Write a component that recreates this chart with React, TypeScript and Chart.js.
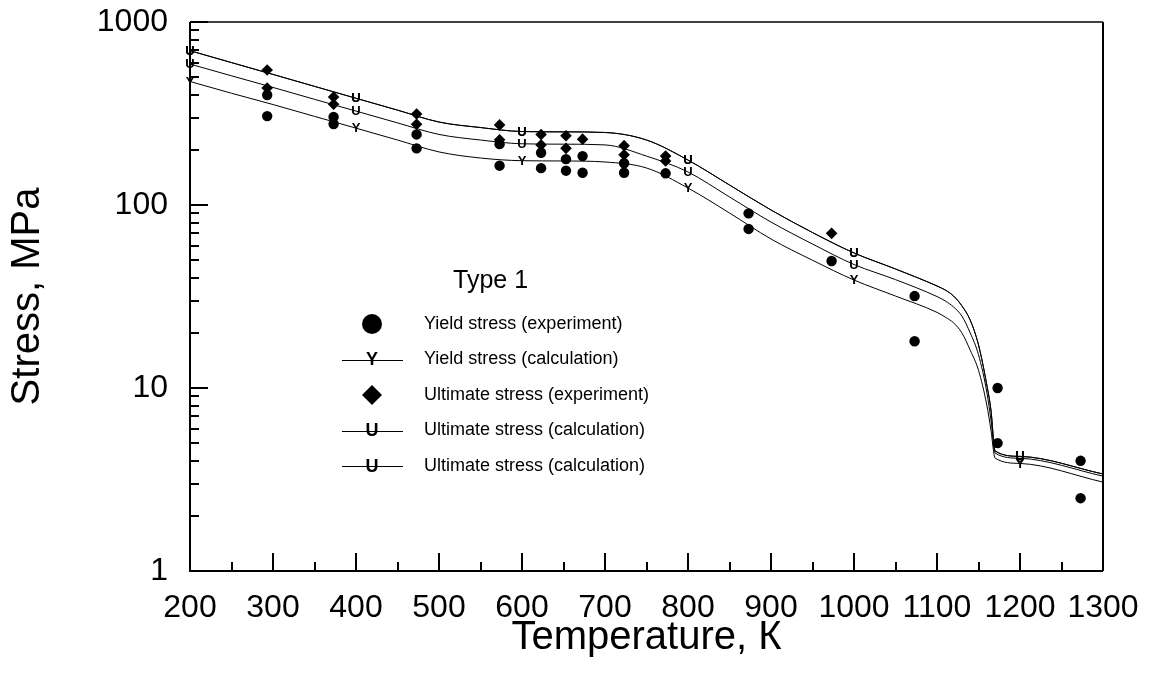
import React, { useEffect, useRef } from 'react';
import { Chart, registerables } from 'chart.js';

Chart.register(...registerables);

const FONT = 'Arial, "Liberation Sans", Helvetica, sans-serif';

// ---- calculated curves (temperature K, stress MPa) ----
const calcTemps = [200, 250, 300, 350, 400, 450, 500, 550, 600, 650, 700, 750, 800, 850, 900, 950, 1000, 1050, 1100, 1110, 1120, 1130, 1140, 1150, 1160, 1165, 1170, 1200, 1300];
const ultimateCalcUpper = [697, 600, 517, 445, 383, 330, 284, 265, 252, 251, 249, 226.5, 176, 128.6, 93.9, 70.7, 54.7, 44.7, 36.1, 34.3, 31.8, 28.1, 23.5, 17.2, 10.4, 7.58, 4.53, 4.23, 3.39];
const ultimateCalcLower = [589, 508, 439, 378, 326, 281, 243, 226.5, 216, 215, 213, 185, 151.5, 110.6, 80.7, 61.2, 47.3, 39.1, 31.6, 29.9, 27.7, 24.7, 20.0, 15.2, 9.51, 6.69, 4.41, 4.13, 3.30];
const yieldCalc = [473, 408, 354, 305, 263, 226.5, 195, 180.6, 174.6, 174, 171.8, 159.3, 123.8, 90.4, 65.2, 49.9, 38.9, 31.8, 25.9, 24.4, 22.7, 20.0, 16.1, 12.5, 8.07, 5.89, 4.14, 3.87, 3.06];
const markerTemps = [200, 400, 600, 800, 1000, 1200];

// ---- experiments ----
const yieldExpT = [293, 293, 373, 373, 473, 473, 573, 573, 623, 623, 653, 653, 673, 673, 723, 723, 773, 873, 873, 973, 1073, 1073, 1173, 1173, 1273, 1273];
const yieldExpV = [399, 306, 303, 277, 243, 204, 215, 164, 193, 159, 178, 154, 185, 150, 169, 150, 149, 90, 74, 49.4, 31.8, 18, 10, 5, 4.0, 2.5];
const ultimateExpT = [293, 293, 373, 373, 473, 473, 573, 573, 623, 623, 653, 653, 673, 723, 723, 773, 773, 973];
const ultimateExpV = [547, 436, 389, 355, 314, 276, 274, 227, 243, 213, 239, 204, 229, 211, 188, 185, 174, 70];

// ---- axes ----
const xTickValues = [200, 300, 400, 500, 600, 700, 800, 900, 1000, 1100, 1200, 1300];
const xMinorTicks = [250, 350, 450, 550, 650, 750, 850, 950, 1050, 1150, 1250];
const yTickValues = [1, 10, 100, 1000];
const yMinorTicks = [2, 3, 4, 5, 6, 7, 8, 9, 20, 30, 40, 50, 60, 70, 80, 90, 200, 300, 400, 500, 600, 700, 800, 900];

const legendTitle = 'Type 1';
const xTitle = 'Temperature, К';
const yTitle = 'Stress, MPa';

const zip = (xs: number[], ys: number[]) => xs.map((x, i) => ({ x, y: ys[i] }));

const framePlugin = {
  id: 'frame',
  afterDraw(chart: any) {
    const { ctx, chartArea } = chart;
    const { left, right, top, bottom } = chartArea;
    const xs = chart.scales.x;
    const ys = chart.scales.y;
    ctx.save();
    ctx.strokeStyle = '#000';
    ctx.lineCap = 'butt';
    ctx.lineWidth = 1.5;
    ctx.beginPath();
    ctx.moveTo(left, top);
    ctx.lineTo(right, top);
    ctx.stroke();
    ctx.lineWidth = 2;
    ctx.beginPath();
    ctx.moveTo(right, top);
    ctx.lineTo(right, bottom);
    ctx.stroke();
    ctx.beginPath();
    ctx.moveTo(left, top);
    ctx.lineTo(left, bottom);
    ctx.lineTo(right, bottom);
    ctx.stroke();
    ctx.beginPath();
    xTickValues.forEach((v) => {
      const p = Math.round(xs.getPixelForValue(v));
      ctx.moveTo(p, bottom);
      ctx.lineTo(p, bottom - 18);
    });
    xMinorTicks.forEach((v) => {
      const p = Math.round(xs.getPixelForValue(v));
      ctx.moveTo(p, bottom);
      ctx.lineTo(p, bottom - 9);
    });
    yTickValues.forEach((v) => {
      const p = Math.round(ys.getPixelForValue(v));
      ctx.moveTo(left, p);
      ctx.lineTo(left + 18, p);
    });
    yMinorTicks.forEach((v) => {
      const p = Math.round(ys.getPixelForValue(v));
      ctx.moveTo(left, p);
      ctx.lineTo(left + 9, p);
    });
    ctx.stroke();
    ctx.restore();
  },
};

const glyphPlugin = {
  id: 'glyphs',
  afterDatasetsDraw(chart: any) {
    const { ctx } = chart;
    ctx.save();
    ctx.fillStyle = '#000';
    ctx.font = `bold 13px ${FONT}`;
    ctx.textAlign = 'center';
    ctx.textBaseline = 'middle';
    chart.data.datasets.forEach((ds: any, i: number) => {
      if (!ds.glyph) return;
      const meta = chart.getDatasetMeta(i);
      meta.data.forEach((el: any, j: number) => {
        const raw = ds.data[j];
        if (markerTemps.includes(raw.x)) ctx.fillText(ds.glyph, el.x, el.y + 0.5);
      });
    });
    ctx.restore();
  },
};

const legendPlugin = {
  id: 'typeLegend',
  afterDraw(chart: any) {
    const { ctx } = chart;
    ctx.save();
    ctx.fillStyle = '#000';
    ctx.strokeStyle = '#000';
    ctx.font = `25px ${FONT}`;
    ctx.textAlign = 'left';
    ctx.textBaseline = 'alphabetic';
    ctx.fillText(legendTitle, 453, 288);
    const symX = 372;
    const textX = 424;
    const row0 = 324;
    const gap = 35.5;
    const order = [0, 3, 1, 4, 5];
    order.forEach((di, i) => {
      const ds = chart.data.datasets[di];
      const y = row0 + i * gap;
      if (ds.legendKind === 'circle') {
        ctx.beginPath();
        ctx.arc(symX, y, 10, 0, Math.PI * 2);
        ctx.fill();
      } else if (ds.legendKind === 'diamond') {
        ctx.beginPath();
        ctx.moveTo(symX - 10, y);
        ctx.lineTo(symX, y - 10);
        ctx.lineTo(symX + 10, y);
        ctx.lineTo(symX, y + 10);
        ctx.closePath();
        ctx.fill();
      } else {
        ctx.lineWidth = 1;
        ctx.beginPath();
        ctx.moveTo(342, Math.round(y) + 0.5);
        ctx.lineTo(403, Math.round(y) + 0.5);
        ctx.stroke();
        ctx.font = `bold 18px ${FONT}`;
        ctx.textAlign = 'center';
        ctx.textBaseline = 'middle';
        ctx.fillText(ds.glyph, symX, y + 1);
      }
      ctx.font = `18px ${FONT}`;
      ctx.textAlign = 'left';
      ctx.textBaseline = 'middle';
      ctx.fillText(ds.label, textX, y);
    });
    ctx.restore();
  },
};

export default function App() {
  const ref = useRef<HTMLCanvasElement>(null);
  useEffect(() => {
    if (!ref.current) return;
    Chart.defaults.font.family = FONT;
    const lineDs = (label: string, values: number[], glyph: string) => ({
      label,
      data: zip(calcTemps, values),
      showLine: true,
      borderColor: '#000',
      borderWidth: 1,
      pointRadius: 0,
      cubicInterpolationMode: 'monotone',
      clip: false,
      glyph,
      legendKind: 'line',
    });
    const chart = new Chart(ref.current, {
      type: 'scatter',
      data: {
        datasets: [
          {
            label: 'Yield stress (experiment)',
            data: zip(yieldExpT, yieldExpV),
            pointStyle: 'circle',
            pointRadius: 5.2,
            backgroundColor: '#000',
            borderWidth: 0,
            legendKind: 'circle',
          } as any,
          {
            label: 'Ultimate stress (experiment)',
            data: zip(ultimateExpT, ultimateExpV),
            pointStyle: 'rectRot',
            pointRadius: 5.8,
            backgroundColor: '#000',
            borderWidth: 0,
            legendKind: 'diamond',
          } as any,
          lineDs('Ultimate stress (calculation)', ultimateCalcUpper, 'U') as any,
          lineDs('Yield stress (calculation)', yieldCalc, 'Y') as any,
          lineDs('Ultimate stress (calculation)', ultimateCalcUpper, 'U') as any,
          lineDs('Ultimate stress (calculation)', ultimateCalcLower, 'U') as any,
        ],
      },
      options: {
        responsive: false,
        animation: false,
        layout: { padding: { left: 0, top: 22, right: 46, bottom: 9 } },
        plugins: { legend: { display: false }, tooltip: { enabled: false } },
        scales: {
          x: {
            type: 'linear',
            min: 200,
            max: 1300,
            grid: { display: false, drawTicks: false },
            border: { display: false },
            afterBuildTicks: (s: any) => {
              s.ticks = xTickValues.map((value) => ({ value }));
            },
            afterFit: (s: any) => {
              s.height = 95;
              s.paddingLeft = 0;
              s.paddingRight = 0;
            },
            ticks: {
              autoSkip: false,
              maxRotation: 0,
              padding: 18,
              color: '#000',
              font: { size: 32, family: FONT },
              callback: (v: any) => String(v),
            },
            title: {
              display: true,
              text: xTitle,
              color: '#000',
              font: { size: 40, family: FONT },
              padding: { top: 4, bottom: 4 },
            },
          },
          y: {
            type: 'logarithmic',
            min: 1,
            max: 1000,
            grid: { display: false, drawTicks: false },
            border: { display: false },
            afterBuildTicks: (s: any) => {
              s.ticks = yTickValues.map((value) => ({ value, major: true }));
            },
            afterFit: (s: any) => {
              s.width = 190;
              s.paddingTop = 0;
              s.paddingBottom = 0;
            },
            ticks: {
              autoSkip: false,
              padding: 22,
              color: '#000',
              font: { size: 32, family: FONT },
              callback: (v: any) => String(v),
            },
            title: {
              display: true,
              text: yTitle,
              color: '#000',
              font: { size: 40, family: FONT },
              padding: { top: 4, bottom: 4 },
            },
          },
        },
      } as any,
      plugins: [framePlugin, glyphPlugin, legendPlugin],
    });
    return () => chart.destroy();
  }, []);
  return (
    <div style={{ position: 'fixed', left: 0, top: 0, width: 1149, height: 675, background: '#fff' }}>
      <canvas ref={ref} width={1149} height={675} style={{ display: 'block', width: 1149, height: 675 }} />
    </div>
  );
}
